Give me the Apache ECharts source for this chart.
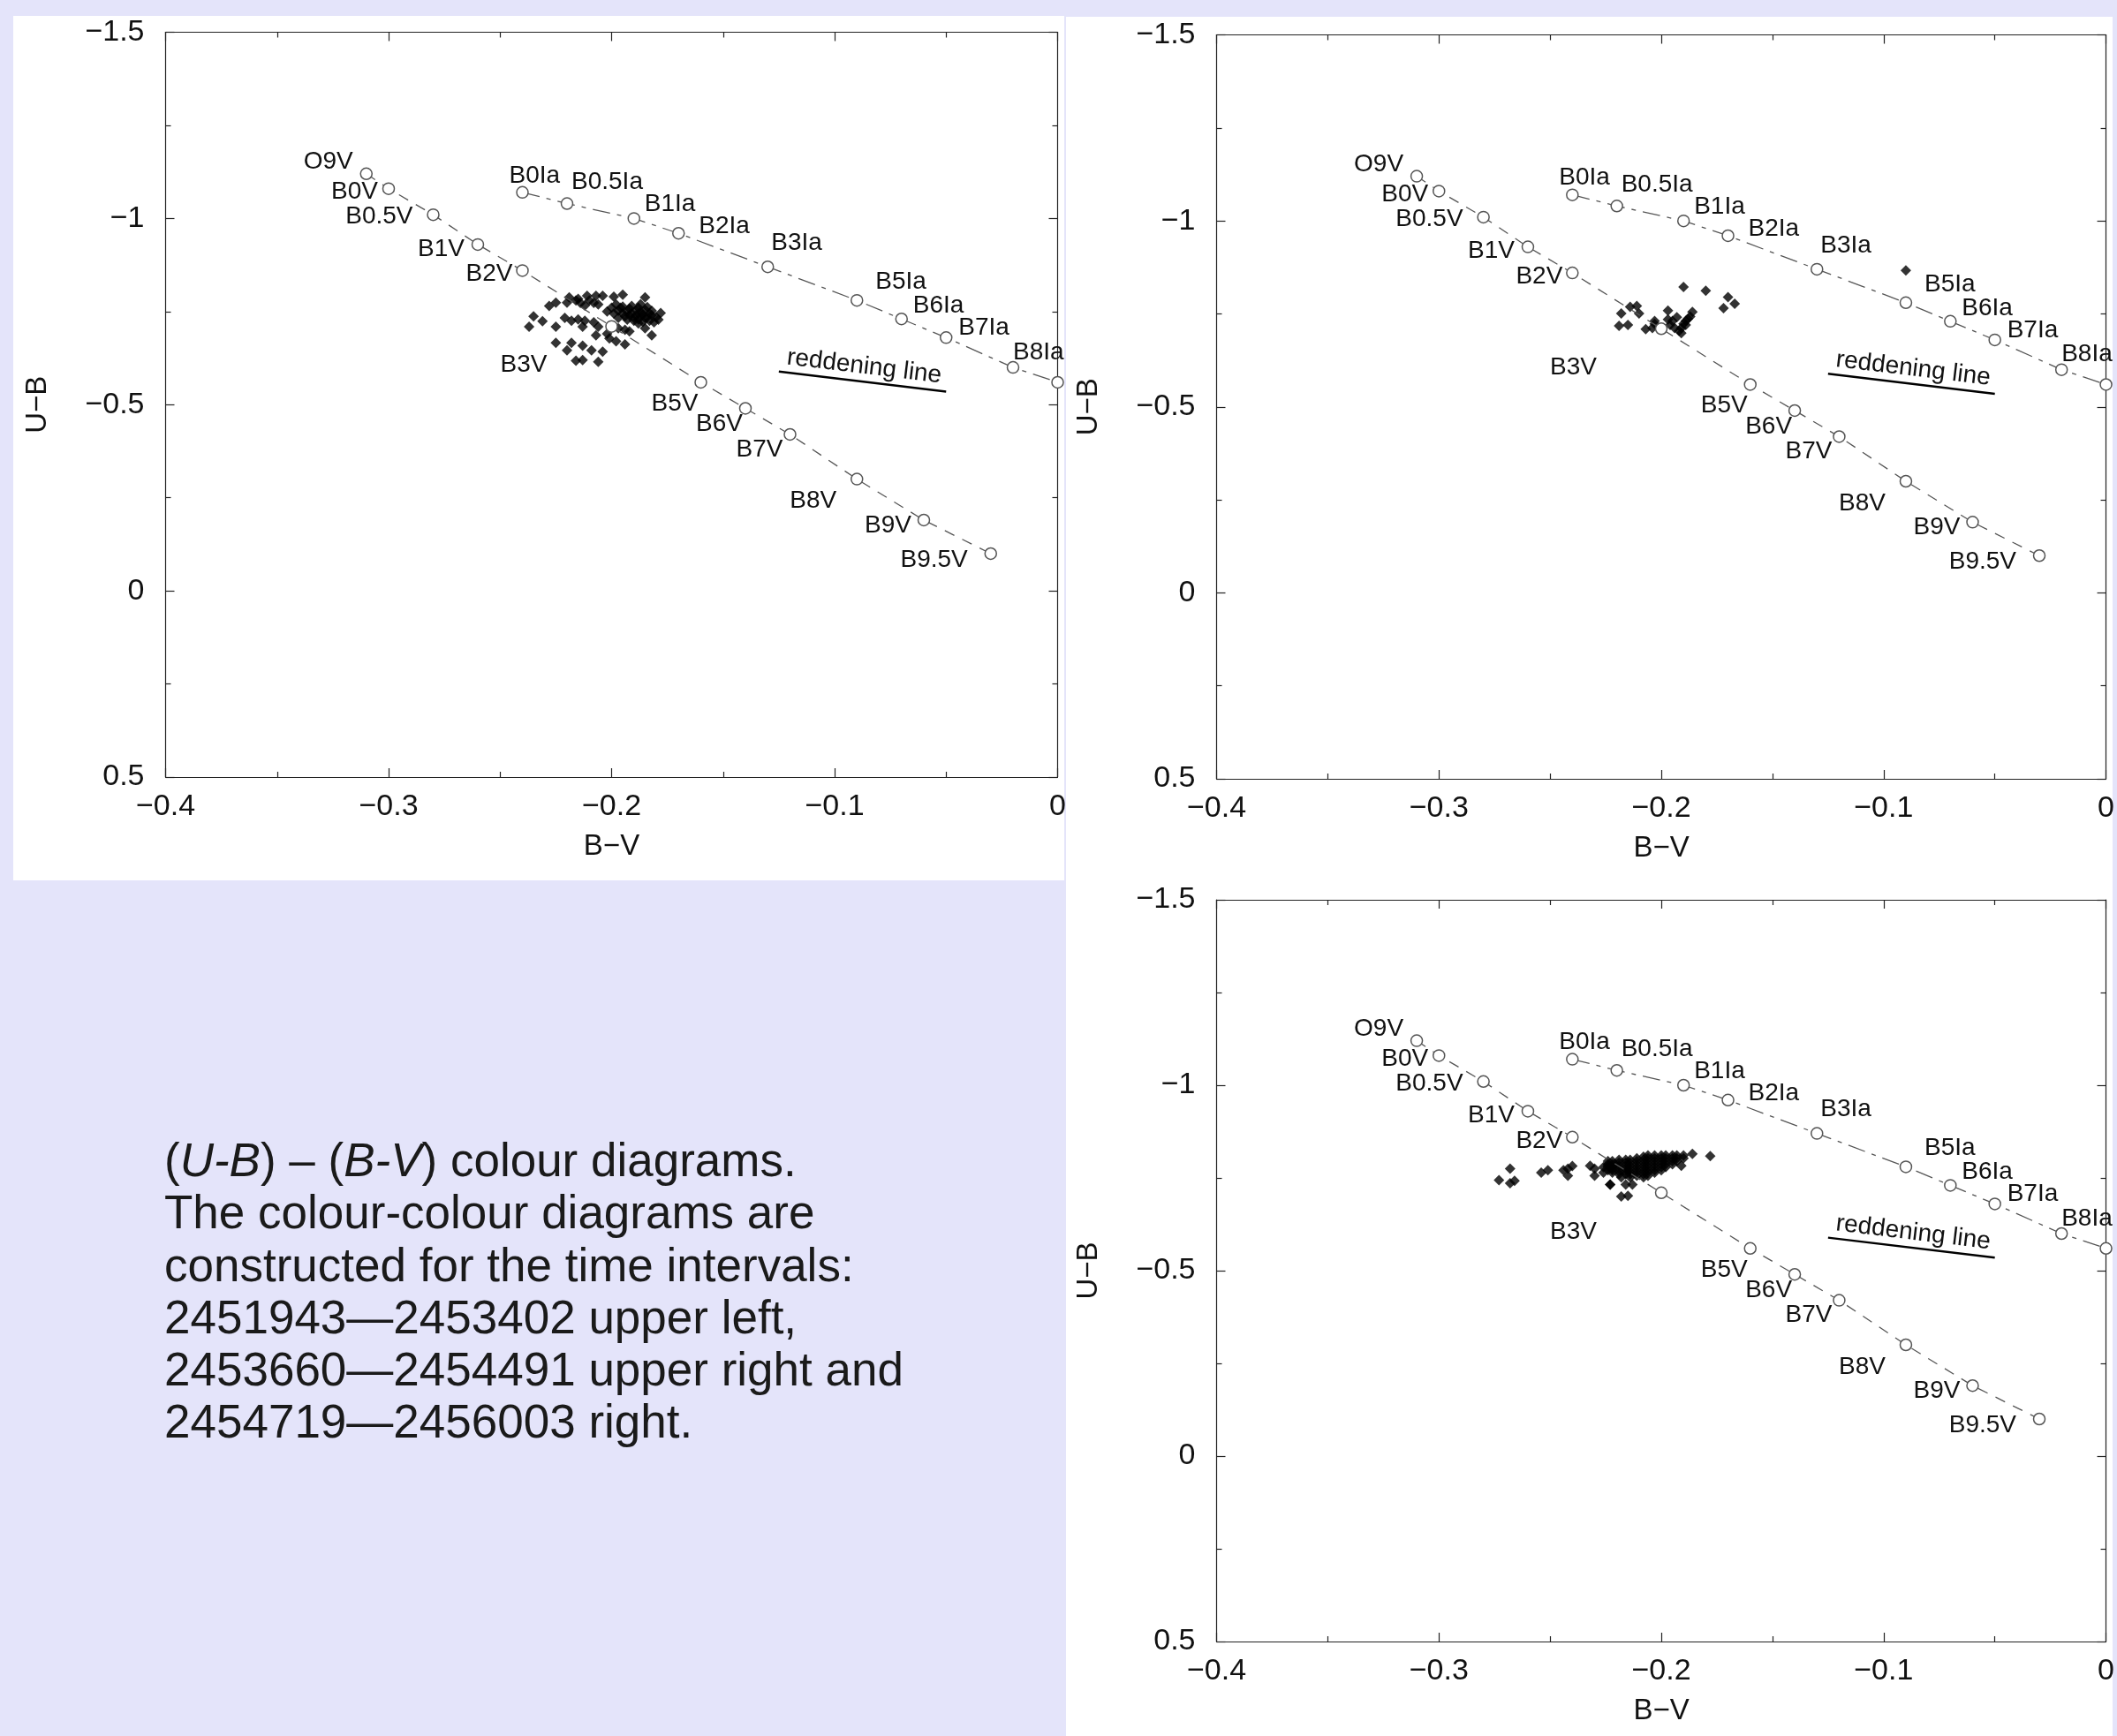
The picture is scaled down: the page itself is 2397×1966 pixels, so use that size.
<!DOCTYPE html>
<html>
<head>
<meta charset="utf-8">
<script src="https://cdn.jsdelivr.net/npm/echarts@6/dist/echarts.min.js"></script>
<style>
  html, body { margin: 0; padding: 0; background: #e4e4fa; }
  body { width: 2397px; height: 1966px; position: relative; overflow: hidden; }
  .panel { position: absolute; background: #ffffff; }
  #caption { position: absolute; left: 186px; top: 1284px; font-family: 'Liberation Sans', Arial, sans-serif; font-size: 53px; line-height: 59.3px; color: #1a1a1a; white-space: nowrap; z-index: 1; }
  #chart { position: absolute; left: 0; top: 0; width: 2397px; height: 1966px; z-index: 2; }
</style>
</head>
<body>
<div class="panel" style="left:15px; top:18px; width:1190px; height:979px;"></div>
<div class="panel" style="left:1207px; top:19px; width:1185px; height:1947px;"></div>
<div id="caption">(<i>U-B</i>) – (<i>B-V</i>) colour diagrams.<br>The colour-colour diagrams are<br>constructed for the time intervals:<br>2451943—2453402 upper left,<br>2453660—2454491 upper right and<br>2454719—2456003 right.</div>
<div id="chart"></div>
<script>
// ---------------- data ----------------
const xTickLabels = ['\u22120.4', '\u22120.3', '\u22120.2', '\u22120.1', '0'];
const yTickLabels = ['\u22121.5', '\u22121', '\u22120.5', '0', '0.5'];

// Main-sequence (luminosity class V) calibration
const vSpectral = ['O9V', 'B0V', 'B0.5V', 'B1V', 'B2V', 'B3V', 'B5V', 'B6V', 'B7V', 'B8V', 'B9V', 'B9.5V'];
const vBV = [-0.31, -0.30, -0.28, -0.26, -0.24, -0.20, -0.16, -0.14, -0.12, -0.09, -0.06, -0.03];
const vUB = [-1.12, -1.08, -1.01, -0.93, -0.86, -0.71, -0.56, -0.49, -0.42, -0.30, -0.19, -0.10];

// Supergiant (class Ia) calibration
const iaSpectral = ['B0Ia', 'B0.5Ia', 'B1Ia', 'B2Ia', 'B3Ia', 'B5Ia', 'B6Ia', 'B7Ia', 'B8Ia', ''];
const iaBV = [-0.24, -0.22, -0.19, -0.17, -0.13, -0.09, -0.07, -0.05, -0.02, 0.00];
const iaUB = [-1.07, -1.04, -1.00, -0.96, -0.87, -0.78, -0.73, -0.68, -0.60, -0.56];

// Reddening line
const reddeningBV = [-0.125, -0.05];
const reddeningUB = [-0.589, -0.535];

// Observations 2451943-2453402 (upper left)
const obsUpperLeft = [
  [-0.219,-0.788],[-0.215,-0.784],[-0.211,-0.792],[-0.207,-0.792],[-0.204,-0.792],[-0.199,-0.790],[-0.195,-0.795],[-0.185,-0.788],
  [-0.228,-0.765],[-0.225,-0.774],[-0.220,-0.774],[-0.214,-0.773],[-0.212,-0.766],[-0.208,-0.773],[-0.206,-0.769],[-0.198,-0.769],
  [-0.195,-0.763],[-0.192,-0.758],[-0.189,-0.753],[-0.187,-0.749],[-0.183,-0.745],[-0.178,-0.746],
  [-0.235,-0.737],[-0.231,-0.724],[-0.237,-0.709],[-0.225,-0.709],[-0.221,-0.733],[-0.218,-0.725],[-0.215,-0.729],[-0.212,-0.725],
  [-0.213,-0.709],[-0.208,-0.721],[-0.206,-0.709],[-0.202,-0.750],[-0.197,-0.733],[-0.194,-0.737],[-0.190,-0.733],[-0.188,-0.729],
  [-0.185,-0.733],[-0.183,-0.725],[-0.181,-0.721],
  [-0.197,-0.705],[-0.194,-0.701],[-0.192,-0.697],[-0.185,-0.705],[-0.182,-0.686],
  [-0.207,-0.686],[-0.202,-0.690],[-0.201,-0.678],[-0.198,-0.670],[-0.194,-0.662],[-0.225,-0.666],[-0.218,-0.666],[-0.220,-0.646],
  [-0.213,-0.658],[-0.209,-0.646],[-0.204,-0.642],[-0.216,-0.618],[-0.213,-0.620],[-0.206,-0.615],
  [-0.196,-0.760],[-0.193,-0.750],[-0.191,-0.745],[-0.189,-0.740],[-0.187,-0.738],[-0.186,-0.742],[-0.184,-0.735],[-0.190,-0.725],
  [-0.193,-0.728],[-0.188,-0.718],[-0.186,-0.722],[-0.192,-0.740],[-0.195,-0.745],[-0.180,-0.735],[-0.182,-0.740],[-0.197,-0.752],
  [-0.199,-0.745],[-0.191,-0.765],[-0.188,-0.760],[-0.185,-0.755],[-0.184,-0.762],[-0.210,-0.780],[-0.216,-0.780],[-0.200,-0.760],
  [-0.187,-0.770],[-0.182,-0.752],[-0.179,-0.728]
];

// Observations 2453660-2454491 (upper right)
const obsUpperRight = [
  [-0.190,-0.822],[-0.180,-0.812],[-0.170,-0.795],[-0.167,-0.777],[-0.172,-0.765],
  [-0.218,-0.751],[-0.214,-0.769],[-0.211,-0.771],[-0.210,-0.751],[-0.219,-0.718],[-0.215,-0.720],
  [-0.207,-0.709],[-0.204,-0.712],[-0.203,-0.731],[-0.203,-0.723],[-0.197,-0.759],[-0.197,-0.735],[-0.195,-0.731],
  [-0.193,-0.741],[-0.196,-0.720],[-0.194,-0.712],[-0.192,-0.704],[-0.191,-0.698],[-0.190,-0.723],[-0.189,-0.731],
  [-0.187,-0.743],[-0.186,-0.755],[-0.189,-0.720],[-0.191,-0.712],[-0.188,-0.737],[-0.090,-0.867]
];

// Observations 2454719-2456003 (lower right)
const obsLowerRight = [
  [-0.268,-0.775],[-0.273,-0.744],[-0.268,-0.736],[-0.266,-0.742],[-0.254,-0.764],[-0.251,-0.771],[-0.244,-0.771],[-0.242,-0.775],
  [-0.240,-0.782],[-0.242,-0.756],[-0.232,-0.783],[-0.230,-0.775],[-0.230,-0.756],[-0.226,-0.779],[-0.226,-0.764],[-0.223,-0.732],
  [-0.224,-0.783],[-0.222,-0.775],[-0.221,-0.787],
  [-0.224,-0.795],[-0.224,-0.787],[-0.224,-0.779],[-0.224,-0.771],
  [-0.222,-0.795],[-0.222,-0.787],[-0.222,-0.779],[-0.222,-0.771],[-0.222,-0.764],
  [-0.219,-0.799],[-0.219,-0.791],[-0.219,-0.783],[-0.219,-0.775],[-0.219,-0.767],[-0.219,-0.760],
  [-0.216,-0.799],[-0.216,-0.791],[-0.216,-0.783],[-0.216,-0.775],[-0.216,-0.767],[-0.216,-0.760],
  [-0.214,-0.799],[-0.214,-0.791],[-0.214,-0.783],[-0.214,-0.775],[-0.214,-0.767],[-0.214,-0.760],[-0.214,-0.752],
  [-0.211,-0.803],[-0.211,-0.795],[-0.211,-0.787],[-0.211,-0.779],[-0.211,-0.771],[-0.211,-0.764],[-0.211,-0.756],
  [-0.208,-0.807],[-0.208,-0.799],[-0.208,-0.791],[-0.208,-0.783],[-0.208,-0.775],[-0.208,-0.767],[-0.208,-0.760],[-0.208,-0.752],
  [-0.206,-0.811],[-0.206,-0.803],[-0.206,-0.795],[-0.206,-0.787],[-0.206,-0.779],[-0.206,-0.771],[-0.206,-0.764],[-0.206,-0.756],
  [-0.203,-0.811],[-0.203,-0.803],[-0.203,-0.795],[-0.203,-0.787],[-0.203,-0.779],[-0.203,-0.771],[-0.203,-0.764],
  [-0.200,-0.811],[-0.200,-0.803],[-0.200,-0.795],[-0.200,-0.787],[-0.200,-0.779],[-0.200,-0.771],
  [-0.198,-0.811],[-0.198,-0.803],[-0.198,-0.795],[-0.198,-0.787],[-0.198,-0.779],
  [-0.195,-0.811],[-0.195,-0.803],[-0.195,-0.795],[-0.195,-0.787],
  [-0.193,-0.811],[-0.193,-0.803],[-0.193,-0.795],
  [-0.190,-0.811],[-0.190,-0.803],[-0.191,-0.783],
  [-0.186,-0.815],[-0.178,-0.809],[-0.223,-0.732],[-0.218,-0.752],[-0.216,-0.732],[-0.213,-0.732],[-0.218,-0.700],[-0.215,-0.702]
];

// ---------------- layout / style ----------------
const FONT = "'Liberation Sans', Arial, Helvetica, sans-serif";
// label placement relative to each point: [dx, dy] in pixels
const vLabelOffsets = [[-15,-13],[-12,4],[-23,2],[-15,5],[-11,4],[-73,44],[-3,24],[-3,18],[-8,17],[-23,25],[-14,6],[-26,7]];
const iaLabelOffsets = [[-15,-19],[5,-24],[12,-16],[23,-8],[4,-27],[21,-21],[13,-15],[14,-11],[0,-17],[0,0]];

const grids = [
  { left: 187.5, top: 36.5, width: 1010, height: 843.5 },
  { left: 1377.5, top: 39.5, width: 1007.5, height: 842.5 },
  { left: 1377.5, top: 1019, width: 1007.5, height: 840 }
];
const panelObs = [obsUpperLeft, obsUpperRight, obsLowerRight];

const axisLineStyle = { color: '#222', width: 1.2 };
const xAxes = [], yAxes = [], series = [];

grids.forEach((g, i) => {
  xAxes.push({
    gridIndex: i, type: 'value', position: 'bottom', min: -0.4, max: 0, interval: 0.1,
    name: 'B\u2212V', nameLocation: 'middle', nameGap: 62,
    nameTextStyle: { fontFamily: FONT, fontSize: 33, color: '#111' },
    axisLine: { show: true, onZero: false, lineStyle: axisLineStyle },
    axisTick: { show: true, inside: true, length: 10, lineStyle: axisLineStyle },
    minorTick: { show: true, splitNumber: 2, length: 6, lineStyle: axisLineStyle },
    axisLabel: { margin: 17, fontFamily: FONT, fontSize: 34, color: '#111', formatter: (v, idx) => xTickLabels[idx] },
    splitLine: { show: false }
  });
  xAxes.push({
    gridIndex: i, type: 'value', position: 'top', min: -0.4, max: 0, interval: 0.1,
    axisLine: { show: true, onZero: false, lineStyle: axisLineStyle },
    axisTick: { show: true, inside: true, length: 10, lineStyle: axisLineStyle },
    minorTick: { show: true, splitNumber: 2, length: 6, lineStyle: axisLineStyle },
    axisLabel: { show: false }, splitLine: { show: false }
  });
  yAxes.push({
    gridIndex: i, type: 'value', position: 'left', min: -1.5, max: 0.5, interval: 0.5, inverse: true,
    name: 'U\u2212B', nameLocation: 'middle', nameGap: 128,
    nameTextStyle: { fontFamily: FONT, fontSize: 33, color: '#111' },
    axisLine: { show: true, onZero: false, lineStyle: axisLineStyle },
    axisTick: { show: true, inside: true, length: 10, lineStyle: axisLineStyle },
    minorTick: { show: true, splitNumber: 2, length: 6, lineStyle: axisLineStyle },
    axisLabel: { margin: 24, fontFamily: FONT, fontSize: 34, color: '#111', formatter: (v, idx) => yTickLabels[idx] },
    splitLine: { show: false }
  });
  yAxes.push({
    gridIndex: i, type: 'value', position: 'right', min: -1.5, max: 0.5, interval: 0.5, inverse: true,
    axisLine: { show: true, onZero: false, lineStyle: axisLineStyle },
    axisTick: { show: true, inside: true, length: 10, lineStyle: axisLineStyle },
    minorTick: { show: true, splitNumber: 2, length: 6, lineStyle: axisLineStyle },
    axisLabel: { show: false }, splitLine: { show: false }
  });

  const xi = 2 * i, yi = 2 * i;

  series.push({
    type: 'scatter', xAxisIndex: xi, yAxisIndex: yi, z: 2,
    symbol: 'diamond', symbolSize: 12, itemStyle: { color: '#000' },
    data: panelObs[i], silent: true
  });

  series.push({
    type: 'line', xAxisIndex: xi, yAxisIndex: yi, z: 4, clip: false,
    symbol: 'circle', symbolSize: 13, showAllSymbol: true,
    itemStyle: { color: '#fff', borderColor: '#555', borderWidth: 1.5 },
    lineStyle: { color: '#555', width: 1.3, type: [12, 10] },
    data: vBV.map((x, k) => ({
      name: vSpectral[k], value: [x, vUB[k]],
      label: { show: true, position: 'inside', align: 'right', verticalAlign: 'middle', offset: vLabelOffsets[k] }
    })),
    label: { formatter: '{b}', fontFamily: FONT, fontSize: 28, color: '#111' },
    emphasis: { disabled: true }, silent: true,
    markLine: {
      silent: true, animation: false, symbol: ['none', 'none'],
      lineStyle: { color: '#000', width: 2.5, type: 'solid' },
      label: { show: true, position: 'insideMiddleTop', distance: 3, formatter: 'reddening line', fontFamily: FONT, fontSize: 28, color: '#111' },
      emphasis: { disabled: true },
      data: [[{ coord: [reddeningBV[0], reddeningUB[0]] }, { coord: [reddeningBV[1], reddeningUB[1]] }]]
    }
  });

  series.push({
    type: 'line', xAxisIndex: xi, yAxisIndex: yi, z: 4, clip: false,
    symbol: 'circle', symbolSize: 13, showAllSymbol: true,
    itemStyle: { color: '#fff', borderColor: '#555', borderWidth: 1.5 },
    lineStyle: { color: '#555', width: 1.3, type: [20, 8, 5, 8] },
    data: iaBV.map((x, k) => ({
      name: iaSpectral[k], value: [x, iaUB[k]],
      label: { show: iaSpectral[k] !== '', position: 'inside', align: 'left', verticalAlign: 'middle', offset: iaLabelOffsets[k] }
    })),
    label: { formatter: '{b}', fontFamily: FONT, fontSize: 28, color: '#111' },
    emphasis: { disabled: true }, silent: true
  });
});

const chart = echarts.init(document.getElementById('chart'), null, { renderer: 'canvas' });
chart.setOption({
  backgroundColor: 'transparent',
  animation: false,
  grid: grids.map(g => Object.assign({ containLabel: false }, g)),
  xAxis: xAxes,
  yAxis: yAxes,
  series: series
});
</script>
</body>
</html>
